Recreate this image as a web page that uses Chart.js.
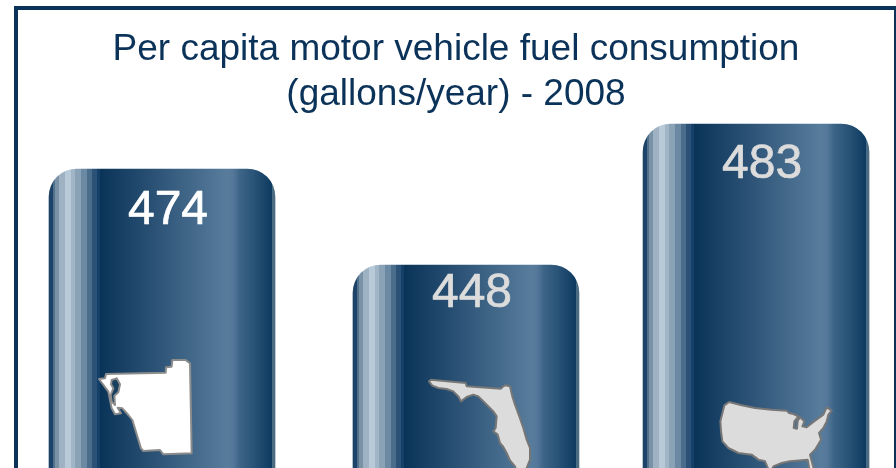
<!DOCTYPE html>
<html>
<head>
<meta charset="utf-8">
<style>
html,body{margin:0;padding:0;background:#fff;width:896px;height:468px;overflow:hidden}
#frame{position:absolute;left:14px;top:6px;width:876px;height:458px;border:4px solid #0a3359;border-bottom:0}
canvas{display:block}
</style>
<script src="https://cdn.jsdelivr.net/npm/chart.js@4"></script>
</head>
<body>
<div id="frame"><canvas id="c" width="876" height="458"></canvas></div>
<script>
const categories = ['Collier County', 'Florida', 'United States'];
const consumption = [474, 448, 483];
const titleLines = ['Per capita motor vehicle fuel consumption', '(gallons/year) - 2008'];
const labelColors = ['#ffffff', '#dcdcdc', '#dcdcdc'];

// The reference's pictogram bars are not proportional, so the value axis is piecewise.
const axisValues = [393, 448, 474, 483, 483.4];
const axisFractions = [0, 0.5867, 0.8642, 0.9942, 1];
const barCentres = [0.1644, 0.5114, 0.8425];
const labelDrop = [55, 42, 54];
const labelShift = 6;
const barWidth = 226;

// x offset in bar px, colour: bands then a smooth ramp
const bands = [[0,4,'#1d4468'],[4,6,'#50708c'],[6,10,'#7a92a6'],[10,16,'#9eb2c3'],[16,22,'#b8c9d7'],[22,26,'#a0b5c6'],
  [26,32,'#8aa2b6'],[32,38,'#6c89a3'],[38,43,'#4b6d8c'],[43,48,'#2b5276'],[48,51,'#14406a']];
const ramp = [[51,'#0a3358'],[110,'#2e5578'],[178,'#587c9c'],[184,'#55789a'],[191,'#3c6486'],[204,'#2a5478'],[223,'#0d3a60']];
const edge = [223,226,'#4b6b82'];

class PictogramScale extends Chart.LinearScale {
  static id = 'pictogram';
  static defaults = Chart.LinearScale.defaults;
  getPixelForValue(v) {
    let i = 0;
    while (i < axisValues.length - 2 && v > axisValues[i + 1]) i++;
    const t = (v - axisValues[i]) / (axisValues[i + 1] - axisValues[i]);
    const f = axisFractions[i] + t * (axisFractions[i + 1] - axisFractions[i]);
    return this.bottom - f * (this.bottom - this.top);
  }
}
class SlotCategoryScale extends Chart.CategoryScale {
  static id = 'slotCategory';
  static defaults = Chart.CategoryScale.defaults;
  getPixelForValue(v) { return this.left + barCentres[v] * this.width; }
}
Chart.register(PictogramScale, SlotCategoryScale);

function barGradient(c) {
  const chart = c.chart;
  if (!chart.chartArea || c.dataIndex === undefined) return '#2e5578';
  const left = chart.scales.x.getPixelForValue(c.dataIndex) - barWidth / 2;
  const g = chart.ctx.createLinearGradient(left, 0, left + barWidth, 0);
  const at = p => Math.min(1, p / barWidth);
  bands.forEach(b => { g.addColorStop(at(b[0]), b[2]); g.addColorStop(at(b[1]), b[2]); });
  ramp.forEach(r => g.addColorStop(at(r[0]), r[1]));
  g.addColorStop(at(edge[0]), edge[2]); g.addColorStop(at(edge[1]), edge[2]);
  return g;
}

// Decorative silhouettes: outline points are in 3x-per-pixel units from each icon's box corner.
const icons = [
  { dx: -67, y: 355, fill: '#ffffff', line: '#8c8c8c',
    shapes: [
      {fill:true, pts:[12,72,30,70,33,57,212,53,213,37,230,35,232,15,272,15,285,25,290,295,205,298,195,285,145,288,138,280,112,195,100,180,82,160,68,158,78,175,60,178,50,160,40,110]},
      {fill:false, pts:[50,75,65,70,75,88,70,112,58,122,60,150,50,140,47,120,55,100,48,88]}
    ] },
  { dx: -41, y: 373, fill: '#dcdcdc', line: '#777777',
    shapes: [
      {fill:true, pts:[12,25,18,20,122,30,125,40,228,47,235,40,240,37,255,40,262,70,270,95,283,130,295,165,305,200,315,225,315,260,305,285,300,310,280,310,270,280,255,262,245,240,235,222,225,210,218,185,205,175,212,165,215,130,205,115,180,90,160,70,145,65,125,72,108,85,100,70,85,55,65,48,40,45,22,38]}
    ] },
  { dx: -41, y: 398, fill: '#dcdcdc', line: '#777777',
    shapes: [
      {fill:true, pts:[28,22,42,12,80,22,120,30,170,35,215,38,222,45,235,48,250,55,238,70,236,90,246,92,248,68,255,58,268,70,262,85,275,88,295,72,325,50,335,28,350,38,340,50,335,70,325,90,312,105,318,125,300,155,285,170,290,190,300,225,285,225,278,185,225,190,200,195,175,205,165,225,150,190,130,185,110,170,70,165,40,150,22,130,18,100,16,70]}
    ] }
];

const pictogramPlugin = {
  id: 'pictogramIcons',
  afterDatasetsDraw(chart) {
    const ctx = chart.ctx;
    const meta = chart.getDatasetMeta(0);
    ctx.save();
    meta.data.forEach((bar, i) => {
      const ic = icons[i];
      const ox = bar.x + ic.dx;
      const oy = ic.y - 10;
      ic.shapes.forEach(s => {
        ctx.beginPath();
        for (let k = 0; k < s.pts.length; k += 2) {
          const px = ox + s.pts[k] / 3, py = oy + s.pts[k + 1] / 3;
          if (k === 0) ctx.moveTo(px, py); else ctx.lineTo(px, py);
        }
        ctx.closePath();
        ctx.fillStyle = s.fill ? ic.fill : '#17415f';
        ctx.fill();
        ctx.lineWidth = 2;
        ctx.lineJoin = 'round';
        ctx.strokeStyle = ic.line;
        ctx.stroke();
      });
      ctx.font = '48px "Liberation Sans"';
      ctx.textAlign = 'center';
      ctx.textBaseline = 'alphabetic';
      ctx.fillStyle = labelColors[i];
      ctx.strokeStyle = labelColors[i];
      ctx.lineWidth = 0.7;
      ctx.fillText(String(consumption[i]), bar.x + labelShift, bar.y + labelDrop[i]);
      ctx.strokeText(String(consumption[i]), bar.x + labelShift, bar.y + labelDrop[i]);
    });
    ctx.restore();
  }
};

new Chart(document.getElementById('c'), {
  type: 'bar',
  data: { labels: categories, datasets: [{
    data: consumption,
    barThickness: barWidth,
    backgroundColor: barGradient,
    borderSkipped: false,
    borderRadius: { topLeft: 28, topRight: 28, bottomLeft: 0, bottomRight: 0 }
  }] },
  plugins: [pictogramPlugin],
  options: {
    responsive: false,
    animation: false,
    events: [],
    layout: { padding: 0 },
    plugins: {
      legend: { display: false },
      tooltip: { enabled: false },
      title: {
        display: true,
        text: titleLines,
        color: '#0b3259',
        font: { family: '"Liberation Sans"', size: 37, weight: 'normal', lineHeight: 1.216 },
        padding: { top: 17, bottom: 5 }
      }
    },
    scales: {
      x: { type: 'slotCategory', display: false },
      y: { type: 'pictogram', display: false, min: 393, max: 483.4 }
    }
  }
});
</script>
</body>
</html>
